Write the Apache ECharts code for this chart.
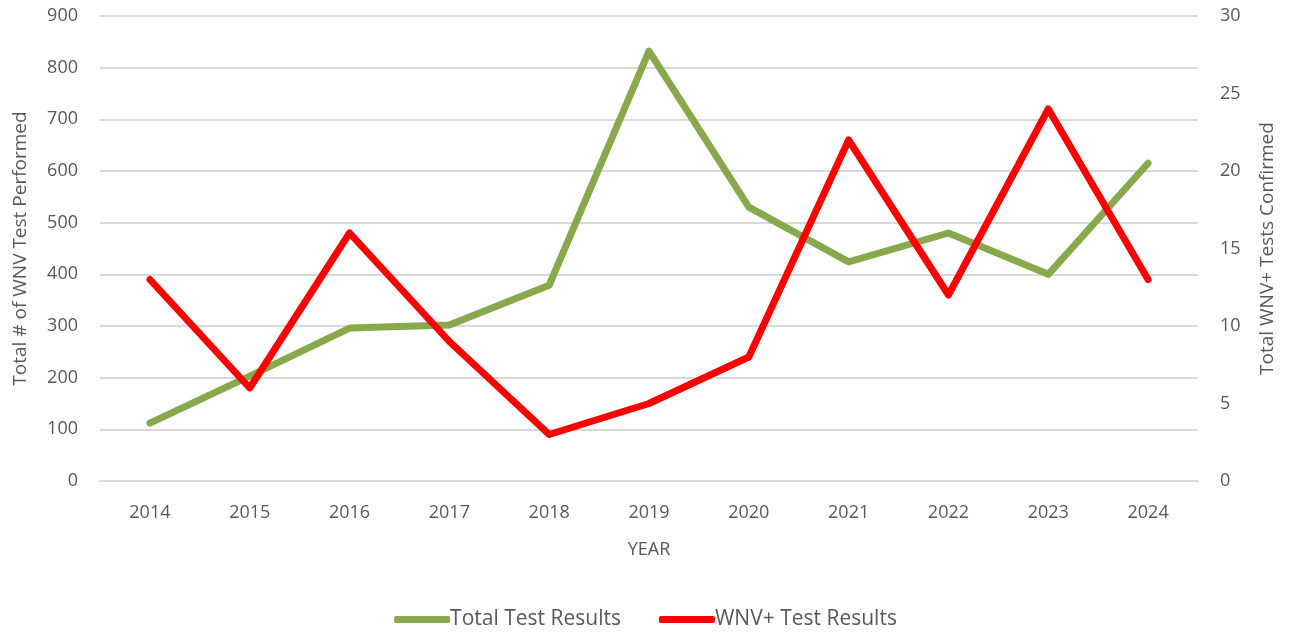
<!DOCTYPE html>
<html>
<head>
<meta charset="utf-8">
<script src="https://cdn.jsdelivr.net/npm/echarts@6/dist/echarts.min.js"></script>
<style>
html,body{margin:0;padding:0;background:#fff;}
#chart{width:1291px;height:633px;}
</style>
</head>
<body>
<div id="chart"></div>
<script>
const years = ['2014','2015','2016','2017','2018','2019','2020','2021','2022','2023','2024'];
const totalTests = [112, 203, 296, 302, 379, 832, 530, 424, 480, 400, 615];
const wnvPositive = [13, 6, 16, 9, 3, 5, 8, 22, 12, 24, 13];
const seriesNames = ['Total Test Results', 'WNV+ Test Results'];

const FONT = '"Open Sans", "Liberation Sans", sans-serif';
const TXT = '#595959';
const chart = echarts.init(document.getElementById('chart'));
chart.setOption({
  animation: false,
  textStyle: { fontFamily: FONT },
  grid: { left: 100, right: 93, top: 16, bottom: 152, containLabel: false },
  legend: {
    top: 604,
    left: 'center',
    itemWidth: 56,
    itemHeight: 7,
    itemGap: 38,
    icon: 'roundRect',
    textStyle: { color: TXT, fontSize: 21, fontFamily: FONT, padding: [0,0,0,-5] },
    data: seriesNames
  },
  xAxis: {
    type: 'category',
    data: years,
    boundaryGap: true,
    name: 'YEAR',
    nameLocation: 'middle',
    nameGap: 60,
    nameTextStyle: { color: TXT, fontSize: 18 },
    axisLine: { show: true, lineStyle: { color: '#d9d9d9', width: 2 } },
    axisTick: { show: false },
    axisLabel: { color: TXT, fontSize: 18, margin: 23 }
  },
  yAxis: [
    {
      type: 'value', min: 0, max: 900, interval: 100,
      name: 'Total # of WNV Test Performed',
      nameLocation: 'middle', nameGap: 70,
      nameTextStyle: { color: TXT, fontSize: 19 },
      axisLine: { show: false }, axisTick: { show: false },
      axisLabel: { color: TXT, fontSize: 18, margin: 22 },
      splitLine: { lineStyle: { color: '#d9d9d9', width: 2 } }
    },
    {
      type: 'value', min: 0, max: 30, interval: 5,
      name: 'Total WNV+ Tests Confirmed',
      nameLocation: 'middle', nameGap: 60,
      nameRotate: 90,
      nameTextStyle: { color: TXT, fontSize: 19 },
      axisLine: { show: false }, axisTick: { show: false },
      axisLabel: { color: TXT, fontSize: 18, margin: 22 },
      splitLine: { show: false }
    }
  ],
  series: [
    {
      name: seriesNames[0], type: 'line', yAxisIndex: 0,
      data: totalTests, symbol: 'none',
      lineStyle: { color: '#87a84b', width: 7, cap: 'round', join: 'round' },
      itemStyle: { color: '#87a84b' }
    },
    {
      name: seriesNames[1], type: 'line', yAxisIndex: 1,
      data: wnvPositive, symbol: 'none',
      lineStyle: { color: '#ff0000', width: 7, cap: 'round', join: 'round' },
      itemStyle: { color: '#ff0000' }
    }
  ]
});
</script>
</body>
</html>
